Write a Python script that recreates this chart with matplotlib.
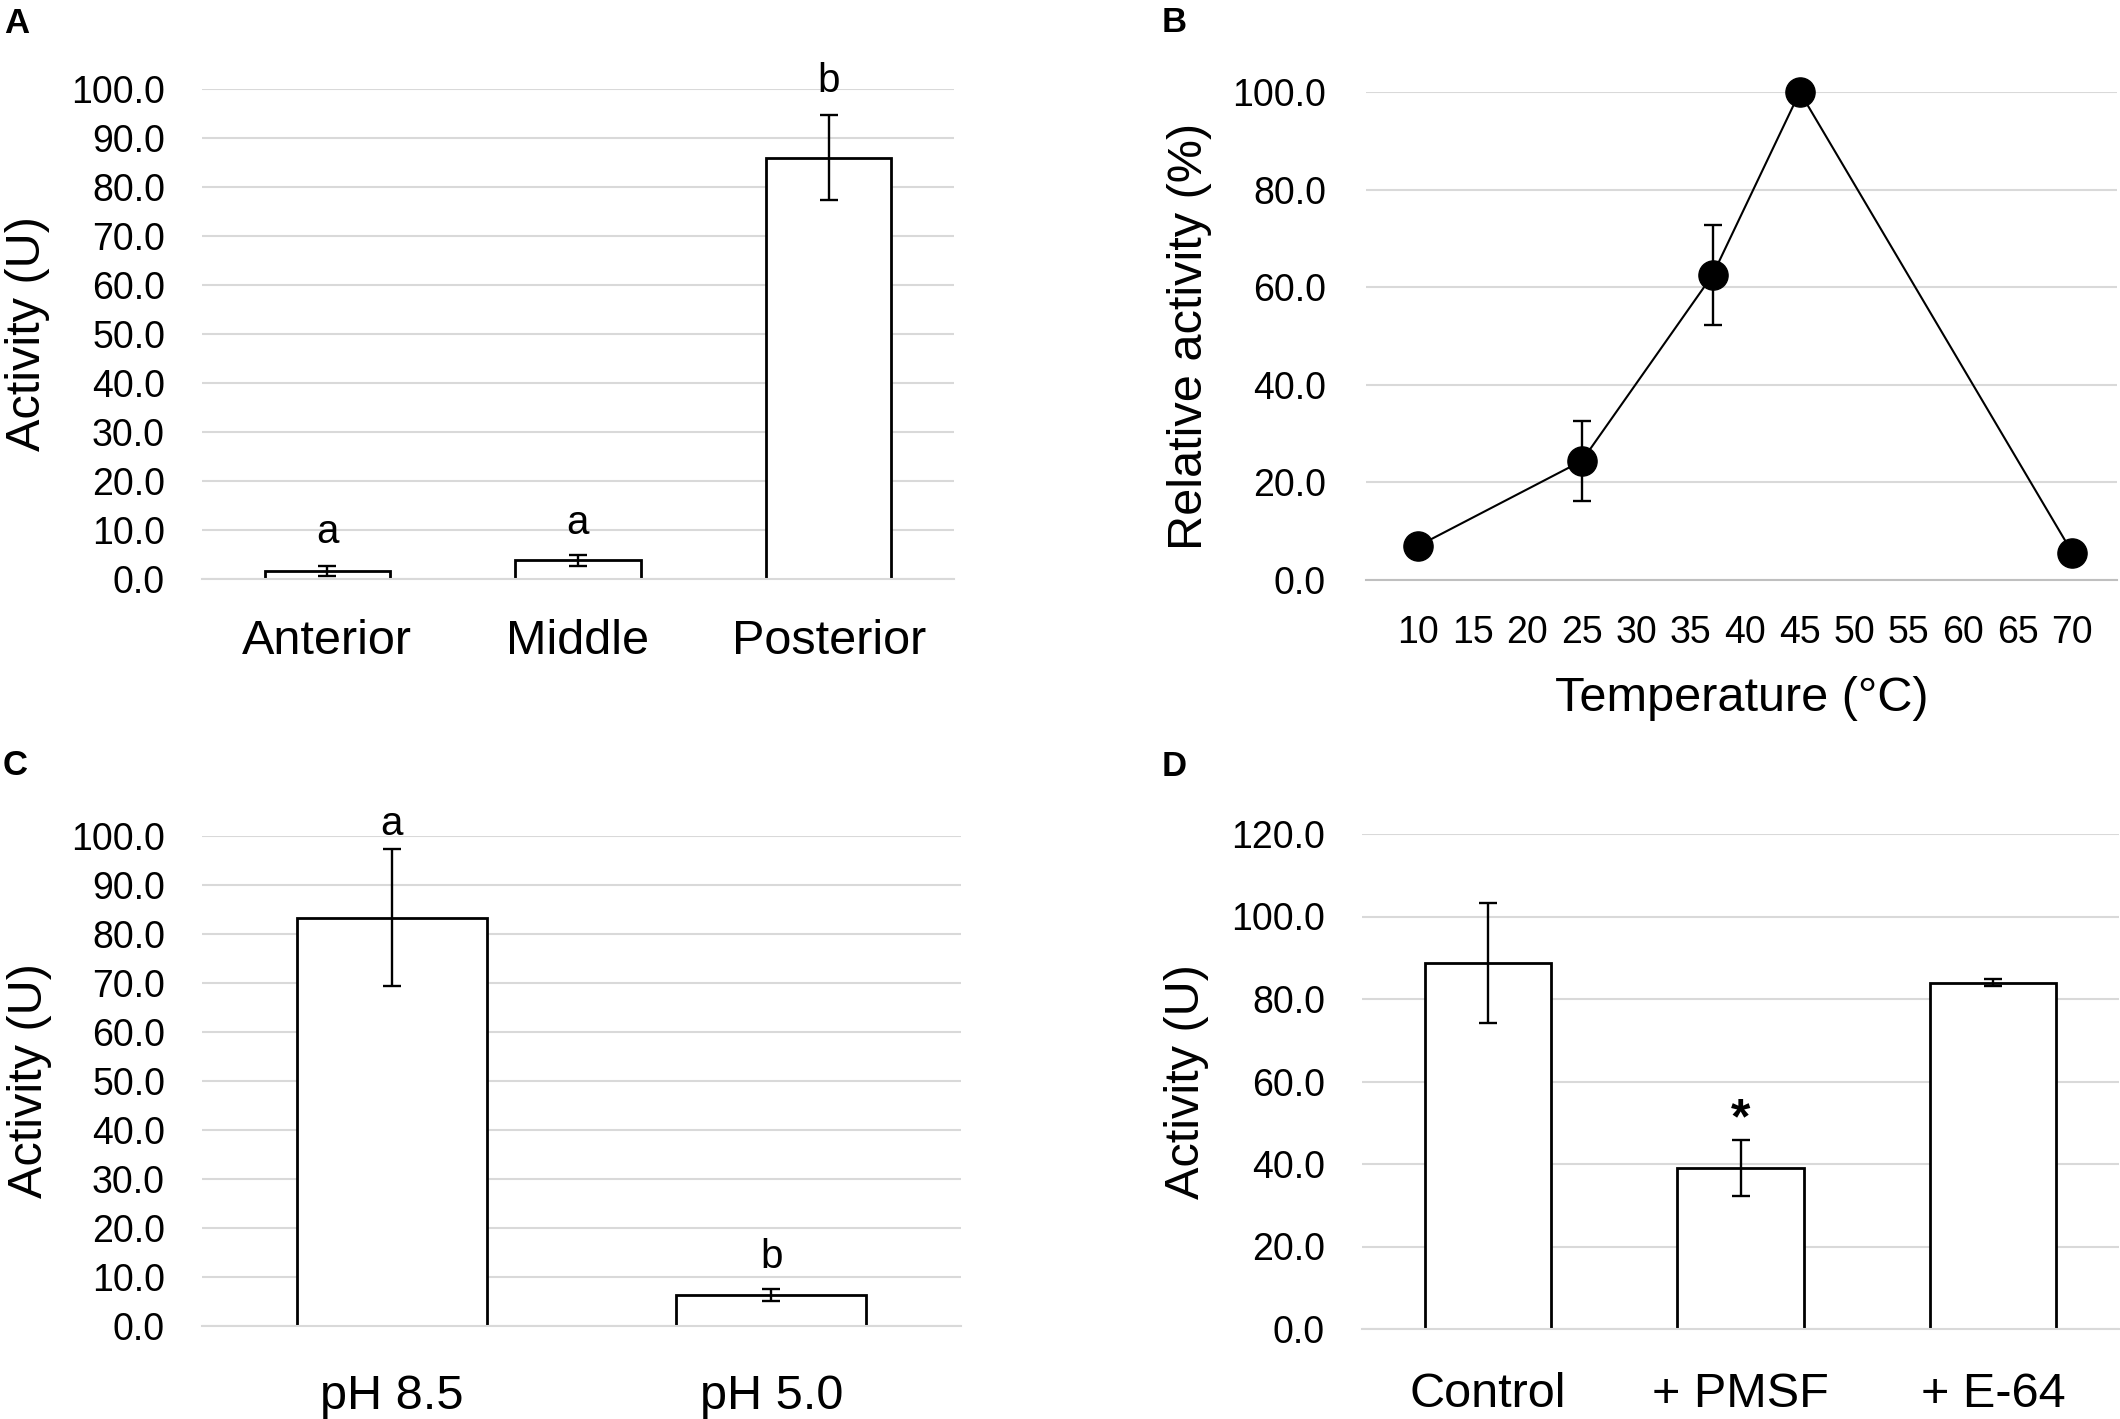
import matplotlib
matplotlib.use('Agg')
import matplotlib.pyplot as plt
from matplotlib.ticker import FormatStrFormatter, MultipleLocator

plt.rcParams['font.family'] = ['Liberation Sans', 'DejaVu Sans']

## Data

# A: activity along the gut
regions = ['Anterior', 'Middle', 'Posterior']
region_act = [1.7, 3.8, 86.0]
region_err = [1.0, 1.1, 8.6]
region_sig = ['a', 'a', 'b']

# B: temperature profile
temps = [10, 25, 37, 45, 70]
temp_rel = [7.0, 24.4, 62.5, 100.0, 5.6]
temp_err = [0, 8.2, 10.2, 0, 0]
temp_ticks = list(range(10, 75, 5))

# C: pH
ph_labels = ['pH 8.5', 'pH 5.0']
ph_act = [83.3, 6.3]
ph_err = [14.0, 1.2]
ph_sig = ['a', 'b']

# D: inhibitors
inhib = ['Control', '+ PMSF', '+ E-64']
inhib_act = [88.8, 39.0, 84.0]
inhib_err = [14.5, 6.8, 0.9]
inhib_sig = ['', '*', '']

## Style

W, H = 2120, 1419
grid_c = '#d9d9d9'
err_kw = dict(ecolor='black', elinewidth=1.7, capsize=6.8, capthick=1.7)


def px_axes(l, t, r, b):
    return [l / W, 1 - b / H, (r - l) / W, (b - t) / H]


def style_axis(ax, ymax, ystep, axis_color=grid_c):
    ax.set_ylim(0, ymax)
    ax.yaxis.set_major_locator(MultipleLocator(ystep))
    ax.yaxis.set_major_formatter(FormatStrFormatter('%.1f'))
    ax.yaxis.grid(True, color=grid_c, lw=1.5)
    ax.set_axisbelow(True)
    for s in ['top', 'left', 'right']:
        ax.spines[s].set_visible(False)
    ax.spines['bottom'].set_color(axis_color)
    ax.spines['bottom'].set_linewidth(1.5)
    ax.tick_params(axis='both', length=0)
    ax.tick_params(axis='y', labelsize=27, pad=26.6)


def bar_panel(ax, labels, vals, errs, sig, sig_off, ymax, ystep, xpad,
              sig_size=29, sig_weight='normal'):
    x = list(range(len(labels)))
    ax.bar(x, vals, width=0.5, color='white', edgecolor='black',
           linewidth=2, yerr=errs, error_kw=err_kw)
    ax.set_xlim(-0.5, len(labels) - 0.5)
    style_axis(ax, ymax, ystep)
    ax.set_xticks(x)
    ax.set_xticklabels(labels)
    ax.tick_params(axis='x', labelsize=35, pad=xpad)
    for i, (v, e, s, o) in enumerate(zip(vals, errs, sig, sig_off)):
        if s:
            ax.annotate(s, (i, v + e), xytext=(0, o), textcoords='offset points',
                        ha='center', va='baseline', fontsize=sig_size,
                        fontweight=sig_weight)
    ax.set_ylabel('Activity (U)', fontsize=35)


fig = plt.figure(figsize=(W / 100, H / 100), dpi=100)

axA = fig.add_axes(px_axes(202, 89, 954, 579))
bar_panel(axA, regions, region_act, region_err, region_sig, [16.5, 15, 17],
          100, 10, 28.8)
axA.yaxis.set_label_coords(-0.202, 0.5)

axB = fig.add_axes(px_axes(1366, 92, 2117, 580))
axB.errorbar(temps, temp_rel, yerr=temp_err, color='black', lw=1.5,
             marker='o', ms=21, clip_on=False, **err_kw)
axB.set_xlim(5.2, 74.1)
style_axis(axB, 100, 20, axis_color='#bfbfbf')
axB.set_xticks(temp_ticks)
axB.tick_params(axis='x', labelsize=27, pad=25)
axB.tick_params(axis='y', pad=28.8)
axB.set_ylabel('Relative activity (%)', fontsize=35)
axB.yaxis.set_label_coords(-0.205, 0.5)
axB.set_xlabel('Temperature (°C)', fontsize=35)
axB.xaxis.label.set_va('baseline')
axB.xaxis.set_label_coords(0.5, -0.268)

axC = fig.add_axes(px_axes(202, 836, 961, 1326))
bar_panel(axC, ph_labels, ph_act, ph_err, ph_sig, [10, 15], 100, 10, 34.5)
axC.yaxis.set_label_coords(-0.198, 0.5)

axD = fig.add_axes(px_axes(1362, 834, 2119, 1329))
bar_panel(axD, inhib, inhib_act, inhib_err, inhib_sig, [0, 5, 0], 120, 20, 31,
          sig_size=36, sig_weight='bold')
axD.yaxis.set_label_coords(-0.202, 0.5)

for letter, (x, y) in zip('ABCD', [(4, 33), (1162, 32), (3, 775), (1162, 776)]):
    fig.text(x / W, 1 - y / H, letter, fontsize=25, fontweight='bold',
             va='baseline', ha='left')

fig.savefig('out.png', dpi=100)
